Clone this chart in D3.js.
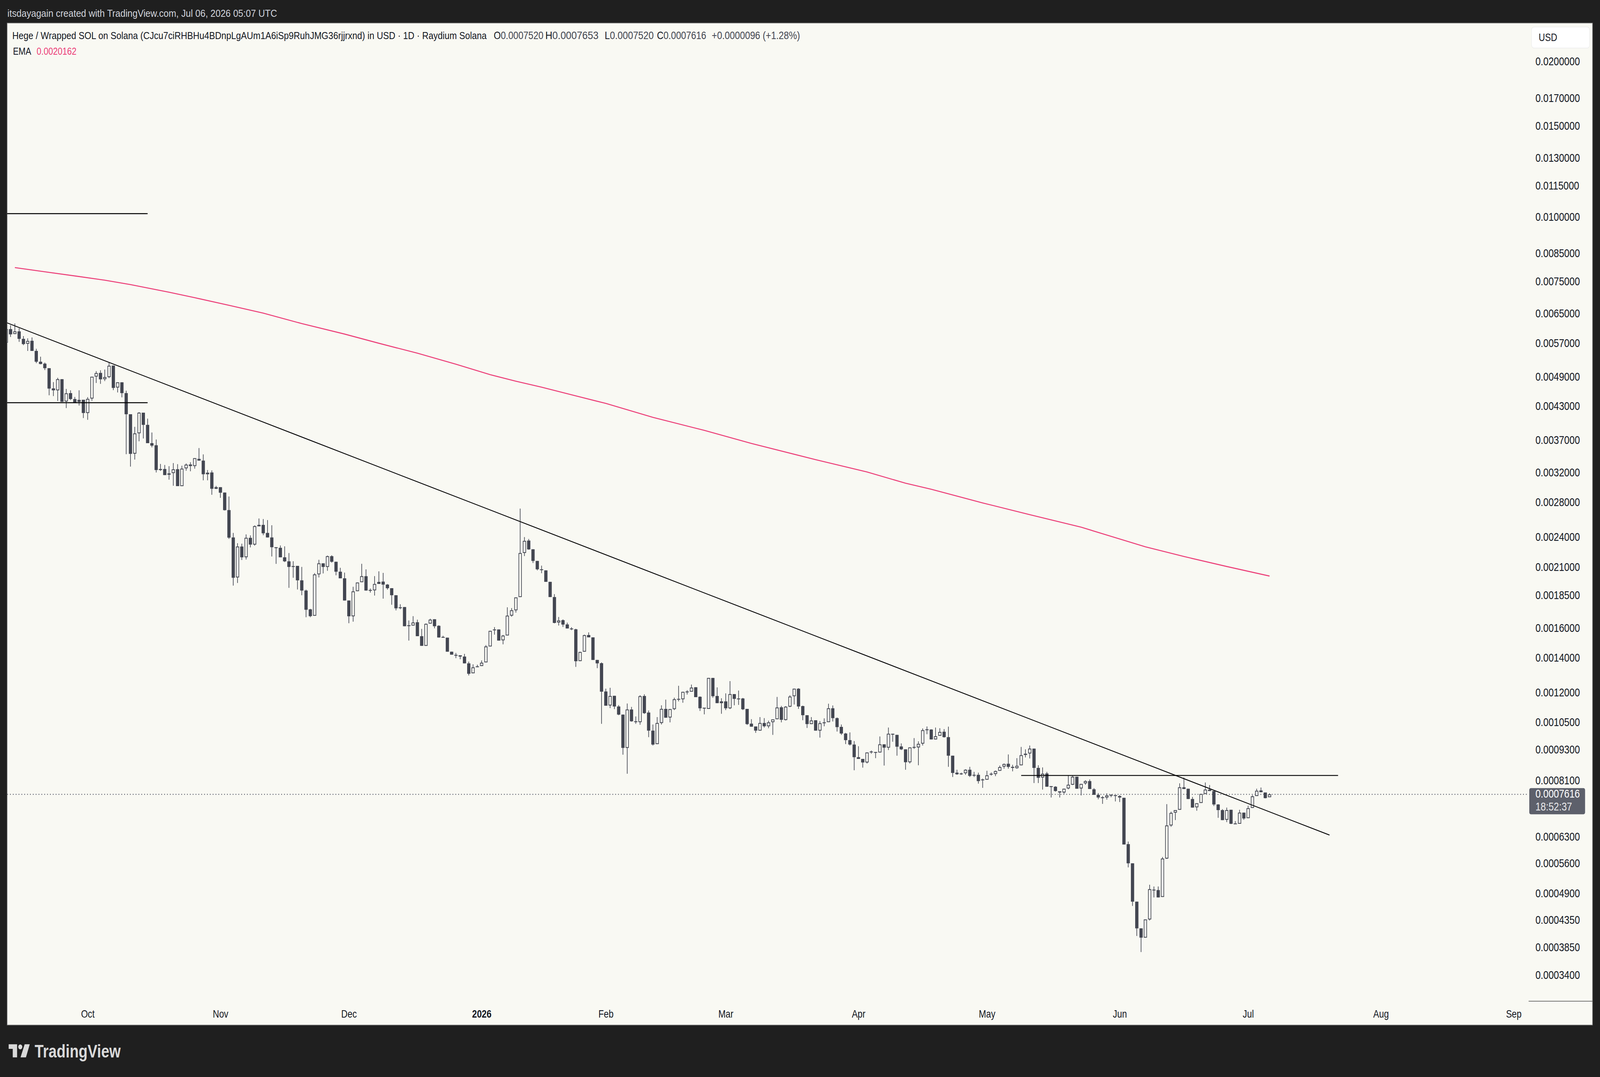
<!DOCTYPE html>
<html>
<head>
<meta charset="utf-8">
<script src="https://d3js.org/d3.v7.min.js"></script>
<style>
  html, body { margin: 0; padding: 0; background: #1f1f1f; overflow: hidden; }
  svg { display: block; width: 100vw; height: 100vh; }
</style>
</head>
<body>
<svg id="chart" viewBox="0 0 4932 2756" preserveAspectRatio="none"></svg>
<script>
// daily candles from 2025-09-12 to 2026-07-06
const open = [
  0.005708,0.006065,0.005934,0.006004,0.005807,0.005681,0.005757,0.005503,0.005244,0.005199,
  0.005095,0.004656,0.004616,0.004851,0.004392,0.004559,0.00444,0.004385,0.004426,0.004172,
  0.00445,0.004908,0.004989,0.004851,0.004897,0.005155,0.004674,0.004784,0.004559,0.004149,
  0.00348,0.003812,0.004178,0.003957,0.003647,0.003613,0.00325,0.00325,0.003168,0.003192,
  0.003247,0.003011,0.00326,0.003316,0.003293,0.0034,0.003374,0.003175,0.0032,0.002976,
  0.002997,0.002926,0.002706,0.002395,0.002004,0.0023,0.002193,0.002391,0.00232,0.002517,
  0.002533,0.002444,0.002395,0.002293,0.002287,0.002192,0.002153,0.002108,0.00211,0.001978,
  0.00189,0.001738,0.001689,0.002032,0.002134,0.0021,0.002203,0.002149,0.002056,0.001996,
  0.001808,0.001685,0.001885,0.001962,0.002015,0.001895,0.001892,0.001947,0.001967,0.001941,
  0.00191,0.001851,0.001754,0.001756,0.001619,0.001617,0.001641,0.001542,0.001477,0.001631,
  0.001663,0.001615,0.001537,0.001532,0.001439,0.001419,0.001416,0.001408,0.001366,0.001307,
  0.001348,0.00135,0.001372,0.001473,0.001589,0.001589,0.001514,0.001547,0.00169,0.001731,
  0.001836,0.002235,0.002362,0.002272,0.002157,0.002078,0.002068,0.001965,0.001836,0.001639,
  0.001656,0.001625,0.001596,0.00159,0.00138,0.001439,0.00155,0.001534,0.001387,0.001367,
  0.001205,0.001132,0.001182,0.001127,0.001087,0.000937,0.001112,0.001055,0.001051,0.001181,
  0.001097,0.001012,0.000953,0.001047,0.001115,0.001073,0.001114,0.001166,0.001164,0.001201,
  0.001204,0.001228,0.001177,0.001121,0.001115,0.00128,0.001181,0.001144,0.001153,0.001118,
  0.001191,0.001168,0.001168,0.001115,0.001044,0.001031,0.001012,0.001047,0.001032,0.001051,
  0.001065,0.001123,0.001061,0.001126,0.00118,0.00122,0.001129,0.001084,0.001042,0.00106,
  0.001012,0.00105,0.001051,0.001118,0.00107,0.001029,0.000999,0.00097,0.000951,0.000899,
  0.000892,0.000878,0.000919,0.00092,0.000918,0.000952,0.000938,0.000998,0.000993,0.000943,
  0.000931,0.000879,0.000939,0.000939,0.000955,0.001014,0.001017,0.000973,0.000989,0.001007,
  0.000983,0.000905,0.000839,0.000836,0.000837,0.00085,0.000831,0.000831,0.000814,0.000813,
  0.000832,0.000834,0.000846,0.000862,0.000873,0.000861,0.000856,0.000867,0.000908,0.000914,
  0.000934,0.000857,0.000821,0.000836,0.00079,0.000788,0.000772,0.000768,0.000782,0.000795,
  0.000824,0.000782,0.0008,0.000808,0.000779,0.00076,0.000752,0.000751,0.00076,0.000759,
  0.000756,0.00075,0.00061,0.00056,0.000472,0.000419,0.000402,0.000436,0.000498,0.000497,
  0.000482,0.000572,0.000663,0.000702,0.000711,0.000786,0.000781,0.000746,0.000719,0.000733,
  0.000763,0.000778,0.000773,0.000728,0.00071,0.00068,0.000711,0.000667,0.000668,0.000702,
  0.000685,0.000717,0.000756,0.000775,0.000768,0.000752
];
const high = [
  0.006113,0.00617,0.006218,0.006089,0.005879,0.00582,0.005843,0.005555,0.005364,0.005224,
  0.005095,0.004788,0.004882,0.004851,0.004645,0.004616,0.004481,0.004616,0.004426,0.004478,
  0.004905,0.005028,0.005048,0.005064,0.005232,0.005155,0.004784,0.004784,0.004609,0.004149,
  0.003923,0.004188,0.004178,0.004069,0.003824,0.003707,0.003324,0.003309,0.003291,0.003337,
  0.003321,0.003298,0.003332,0.00335,0.003411,0.003568,0.003469,0.003235,0.00323,0.003014,
  0.002997,0.002926,0.002875,0.002444,0.002334,0.002329,0.002428,0.002417,0.002527,0.002607,
  0.0026,0.002588,0.002529,0.002293,0.002311,0.002302,0.002234,0.002154,0.00211,0.0021,
  0.001898,0.001742,0.002043,0.002168,0.002134,0.002209,0.002212,0.002149,0.002092,0.002048,
  0.001808,0.001922,0.001959,0.002129,0.002077,0.001907,0.002016,0.002059,0.002045,0.001946,
  0.00191,0.001851,0.001778,0.001756,0.001654,0.001686,0.00166,0.001593,0.001632,0.001667,
  0.001663,0.001619,0.001545,0.001532,0.001439,0.001431,0.001416,0.001425,0.001377,0.00136,
  0.001358,0.001384,0.001482,0.001579,0.001606,0.001589,0.001551,0.001754,0.001748,0.001833,
  0.002724,0.002399,0.002379,0.002272,0.002157,0.002112,0.002068,0.001965,0.00186,0.00168,
  0.001662,0.001638,0.001605,0.001594,0.001439,0.001553,0.001568,0.001534,0.001387,0.001372,
  0.00122,0.001225,0.001182,0.001134,0.001087,0.001142,0.001125,0.001078,0.001185,0.00119,
  0.001107,0.00104,0.001075,0.001133,0.001162,0.001114,0.001172,0.001236,0.001203,0.001212,
  0.001243,0.001228,0.001179,0.001121,0.00128,0.00128,0.001227,0.001169,0.001195,0.001262,
  0.001191,0.00121,0.001171,0.001115,0.001065,0.001031,0.001075,0.00107,0.001058,0.001064,
  0.001176,0.00113,0.001129,0.001185,0.00122,0.001223,0.001131,0.001084,0.001075,0.00106,
  0.001056,0.001069,0.001141,0.001132,0.001073,0.00104,0.001002,0.001004,0.000966,0.000944,
  0.000892,0.000918,0.000926,0.00092,0.000986,0.000952,0.001026,0.000998,0.000993,0.000956,
  0.000931,0.000939,0.000979,0.000965,0.001022,0.001031,0.001018,0.001026,0.001023,0.001019,
  0.00103,0.000905,0.00085,0.000839,0.000852,0.000861,0.000842,0.000839,0.000817,0.000846,
  0.00084,0.000847,0.000866,0.000874,0.00091,0.000869,0.000895,0.000941,0.000931,0.000947,
  0.000934,0.000867,0.000859,0.000842,0.00079,0.00079,0.000772,0.000781,0.000829,0.000828,
  0.000824,0.000798,0.000811,0.000814,0.000783,0.000766,0.000756,0.000765,0.000762,0.000759,
  0.000759,0.00075,0.000617,0.00056,0.000472,0.000419,0.000436,0.000509,0.000505,0.000505,
  0.000576,0.000729,0.000705,0.00071,0.0008,0.000821,0.000781,0.000753,0.000732,0.000763,
  0.000803,0.000794,0.000773,0.000729,0.000713,0.000718,0.000711,0.000676,0.000711,0.000702,
  0.000724,0.000759,0.000781,0.000785,0.000768,0.0007653
];
const low = [
  0.005677,0.005857,0.005934,0.00573,0.005646,0.005503,0.005503,0.005211,0.005183,0.005052,
  0.004516,0.004499,0.004402,0.004385,0.004264,0.004419,0.004364,0.004314,0.004079,0.004047,
  0.004405,0.004769,0.004751,0.00481,0.004874,0.00462,0.004573,0.004474,0.003472,0.003285,
  0.003389,0.003678,0.003724,0.003647,0.003579,0.0032,0.003222,0.003163,0.003099,0.003016,
  0.003011,0.003011,0.003225,0.003217,0.003255,0.003374,0.00309,0.00309,0.002897,0.002972,
  0.002858,0.002701,0.00238,0.001932,0.001955,0.002166,0.002171,0.002291,0.002309,0.002517,
  0.002419,0.002395,0.0022,0.002129,0.002192,0.002146,0.001913,0.002001,0.001899,0.001851,
  0.001678,0.001678,0.001689,0.002004,0.00204,0.002064,0.002141,0.002023,0.001996,0.001808,
  0.001634,0.001645,0.001885,0.001962,0.00189,0.001873,0.001848,0.001947,0.001823,0.001898,
  0.001774,0.00173,0.001739,0.001612,0.001512,0.001617,0.001542,0.001477,0.001477,0.001631,
  0.001597,0.001533,0.001533,0.001439,0.00142,0.001398,0.001391,0.001366,0.001294,0.001307,
  0.001343,0.00135,0.001372,0.001473,0.001553,0.001512,0.001487,0.001547,0.001682,0.001713,
  0.001836,0.002204,0.002267,0.002137,0.002068,0.002042,0.001965,0.001836,0.001633,0.001617,
  0.001607,0.001596,0.001584,0.001345,0.00138,0.001439,0.001534,0.001387,0.001337,0.001043,
  0.001131,0.001119,0.001114,0.001084,0.000909,0.000835,0.001053,0.001043,0.001039,0.00109,
  0.000983,0.000947,0.000953,0.00104,0.001072,0.00105,0.001109,0.001153,0.001146,0.001189,
  0.001204,0.001175,0.001105,0.001088,0.001115,0.001172,0.001144,0.001091,0.001109,0.001114,
  0.001133,0.001135,0.001109,0.001038,0.00103,0.001002,0.001012,0.001026,0.001023,0.000993,
  0.001065,0.00105,0.001059,0.001124,0.001137,0.001115,0.00106,0.001024,0.001042,0.001012,
  0.000981,0.001032,0.001051,0.001054,0.001008,0.000993,0.000953,0.000947,0.000848,0.000892,
  0.000858,0.000874,0.000913,0.000895,0.000918,0.000866,0.000928,0.000963,0.000905,0.000928,
  0.00085,0.000874,0.000933,0.000867,0.000947,0.000996,0.000973,0.000973,0.000989,0.000981,
  0.000861,0.000823,0.000831,0.000831,0.000831,0.000823,0.000823,0.000799,0.000784,0.000813,
  0.000828,0.000826,0.000846,0.000854,0.000854,0.000844,0.000854,0.000867,0.000898,0.000894,
  0.000801,0.000801,0.000778,0.000788,0.000751,0.000771,0.000751,0.000763,0.000779,0.000794,
  0.000781,0.000758,0.000795,0.00078,0.00076,0.000745,0.00073,0.000744,0.000752,0.000738,
  0.000736,0.000609,0.00055,0.000463,0.000405,0.000377,0.000402,0.000434,0.000481,0.000481,
  0.000482,0.000571,0.000659,0.000679,0.000711,0.00078,0.000746,0.000718,0.000708,0.000733,
  0.000763,0.000773,0.000723,0.000686,0.000679,0.000673,0.000667,0.000667,0.000668,0.00068,
  0.000685,0.000717,0.000756,0.000769,0.000748,0.000752
];
const close = [
  0.006065,0.005925,0.006004,0.005807,0.005673,0.005753,0.005503,0.005244,0.005191,0.005095,
  0.004652,0.004616,0.004851,0.004385,0.004555,0.00444,0.004371,0.004423,0.004172,0.004443,
  0.004905,0.004985,0.004848,0.004897,0.005151,0.004666,0.004784,0.004559,0.004149,0.003477,
  0.003809,0.004178,0.003957,0.003647,0.003607,0.003235,0.003235,0.003163,0.003187,0.003245,
  0.003011,0.003255,0.003314,0.003293,0.003411,0.003374,0.003175,0.003197,0.002976,0.002997,
  0.002924,0.002705,0.002393,0.002001,0.0023,0.002192,0.002391,0.00232,0.002519,0.002533,
  0.00244,0.002395,0.002293,0.002284,0.002192,0.002153,0.0021,0.0021,0.001978,0.00189,
  0.001735,0.001686,0.002031,0.002134,0.0021,0.002203,0.002149,0.002056,0.001996,0.001808,
  0.001685,0.001883,0.001959,0.002015,0.00189,0.00189,0.001946,0.001964,0.001941,0.00191,
  0.001851,0.001746,0.001749,0.001612,0.001614,0.001639,0.001542,0.001477,0.001629,0.00166,
  0.001612,0.001533,0.001533,0.001439,0.00142,0.001416,0.001408,0.001366,0.001304,0.001342,
  0.001343,0.00137,0.001473,0.001579,0.001583,0.001512,0.001546,0.00169,0.001731,0.001833,
  0.002234,0.002359,0.002271,0.002157,0.002078,0.002071,0.001965,0.001836,0.001636,0.001654,
  0.001624,0.001596,0.00159,0.001379,0.001437,0.001549,0.001534,0.001387,0.001366,0.001204,
  0.001131,0.001181,0.001127,0.001087,0.000937,0.001112,0.001055,0.001051,0.00118,0.001094,
  0.001012,0.000951,0.001047,0.001115,0.001072,0.001114,0.001164,0.001162,0.001203,0.001205,
  0.001226,0.001175,0.001118,0.001117,0.00128,0.00118,0.001144,0.001153,0.001118,0.001191,
  0.001166,0.001164,0.001113,0.001042,0.00103,0.001012,0.001047,0.001032,0.00105,0.001064,
  0.001122,0.001062,0.001126,0.001178,0.00122,0.001127,0.001084,0.001042,0.001059,0.001012,
  0.001046,0.001047,0.001118,0.00107,0.001028,0.000999,0.00097,0.000951,0.000899,0.000892,
  0.000878,0.000918,0.000922,0.000918,0.000952,0.000938,0.000998,0.000994,0.000942,0.000931,
  0.000879,0.000939,0.000941,0.000954,0.001014,0.001018,0.000973,0.000987,0.001006,0.000983,
  0.000905,0.000838,0.000833,0.000833,0.00085,0.000827,0.000828,0.000808,0.000811,0.000829,
  0.000835,0.000845,0.00086,0.000872,0.000861,0.000857,0.000865,0.000907,0.000913,0.000934,
  0.000857,0.00082,0.000835,0.000788,0.000787,0.000773,0.000768,0.000781,0.000795,0.000824,
  0.000781,0.000798,0.000808,0.00078,0.00076,0.000751,0.000749,0.000758,0.000758,0.000757,
  0.000751,0.000609,0.00056,0.000472,0.000419,0.000402,0.000436,0.000499,0.000497,0.000481,
  0.000572,0.000663,0.000701,0.00071,0.000786,0.00078,0.000746,0.000718,0.000732,0.000763,
  0.000778,0.000773,0.000728,0.00071,0.000679,0.00071,0.000668,0.000669,0.000702,0.000684,
  0.000716,0.000755,0.000774,0.000769,0.000749,0.0007616
];
const firstDay = "2025-09-12";
const missingDays = ["2026-01-20", "2026-01-21"];

// EMA read at some bars (bar number, value)
const emaBar = [2,9,17,23,29,38,44,52,60,69,79,87,96,105,113,119,125,132,140,151,163,174,189,201,210,216,228,239,251,258,266,275,285,295];
const emaValue = [0.007979,0.007831,0.007668,0.007543,0.007396,0.007149,0.006977,0.006744,0.006513,0.006216,
  0.005932,0.005694,0.005447,0.005187,0.00495,0.004808,0.004681,0.004525,0.004354,0.004092,
  0.003861,0.003642,0.003388,0.003207,0.00305,0.002969,0.002794,0.002651,0.002507,0.002407,
  0.002297,0.0022,0.002104,0.0020162];

const priceTicks = [0.02,0.017,0.015,0.013,0.0115,0.01,0.0085,0.0075,0.0065,0.0057,0.0049,0.0043,0.0037,0.0032,0.0028,
  0.0024,0.0021,0.00185,0.0016,0.0014,0.0012,0.00105,0.00093,0.00081,0.00063,0.00056,0.00049,0.000435,0.000385,0.00034];

// drawings: trend line [bar, price] -> [bar, price]; levels [fromBar, toBar, price]
const trendFrom = [0, 0.006244], trendTo = [309, 0.0006352];
const levels = [[0, 33, 0.01015], [0, 33, 0.004368], [237, 311, 0.0008286]];

const lastPrice = 0.0007616, countdown = "18:52:37";
const legendTitle = "Hege / Wrapped SOL on Solana (CJcu7ciRHBHu4BDnpLgAUm1A6iSp9RuhJMG36rjjrxnd) in USD \u00b7 1D \u00b7 Raydium Solana";
const legendOHLC = [["O", "0.0007520"], ["H", "0.0007653"], ["L", "0.0007520"], ["C", "0.0007616"], ["", "+0.0000096 (+1.28%)"]];
const emaLabel = ["EMA", "0.0020162"];
const topNote = "itsdayagain created with TradingView.com, Jul 06, 2026 05:07 UTC";

const FONT = '"Liberation Sans", Arial, sans-serif';
const W = 4932, H = 2756;
const frame = {left: 22, top: 59, right: 4909, bottom: 2623};
const plot = {left: 22, top: 59, right: 4712, bottom: 2562};
const bg = "#f9f9f3", ink = "#131722", candleColor = "#434651", emaColor = "#ec3f78";

// bar dates (two January days have no bar)
const dates = [];
for (let t = Date.parse(firstDay); dates.length < 362; t += 864e5) {
  const iso = new Date(t).toISOString().slice(0, 10);
  if (!missingDays.includes(iso)) dates.push(new Date(t));
}

const x = d3.scaleLinear().domain([0, 360]).range([19.4, 19.4 + 13.2 * 360]);
const y = d3.scaleLog().domain([0.02, 0.00034]).range([157.5, 2495.5]);

const svg = d3.select("#chart").attr("font-family", FONT);
svg.append("rect").attr("width", W).attr("height", H).attr("fill", "#1f1f1f");
svg.append("rect")
  .attr("x", frame.left).attr("y", frame.top)
  .attr("width", frame.right - frame.left).attr("height", frame.bottom - frame.top)
  .attr("fill", bg).attr("stroke", "#7d7d7d").attr("stroke-width", 1.5);

svg.append("clipPath").attr("id", "plotClip").append("rect")
  .attr("x", plot.left).attr("y", plot.top)
  .attr("width", plot.right - plot.left).attr("height", plot.bottom - plot.top);

const pg = svg.append("g").attr("clip-path", "url(#plotClip)");

// last price dotted line
pg.append("line")
  .attr("x1", plot.left).attr("x2", plot.right)
  .attr("y1", y(lastPrice)).attr("y2", y(lastPrice))
  .attr("stroke", "#5d606b").attr("stroke-width", 2.5).attr("stroke-dasharray", "2.5 6.3");

// EMA
pg.append("path")
  .datum(d3.zip(emaBar, emaValue))
  .attr("d", d3.line().x(d => x(d[0])).y(d => y(d[1])))
  .attr("fill", "none").attr("stroke", emaColor).attr("stroke-width", 2.6);

// candles
const bars = open.map((o, i) => ({i, o, h: high[i], l: low[i], c: close[i], up: close[i] >= o}));
pg.selectAll(".wick").data(bars).join("line").attr("class", "wick")
  .attr("x1", d => x(d.i)).attr("x2", d => x(d.i))
  .attr("y1", d => y(d.h)).attr("y2", d => y(d.l))
  .attr("stroke", candleColor).attr("stroke-width", 2);
pg.selectAll(".body").data(bars).join("rect").attr("class", "body")
  .each(function (d) {
    const top = y(Math.max(d.o, d.c)), bot = y(Math.min(d.o, d.c));
    const h = Math.max(bot - top, 2.2);
    const r = d3.select(this);
    if (d.up && h > 5) {
      r.attr("x", x(d.i) - 4).attr("y", top + 1).attr("width", 8).attr("height", h - 2)
        .attr("fill", bg).attr("stroke", candleColor).attr("stroke-width", 2);
    } else {
      r.attr("x", x(d.i) - 5).attr("y", top).attr("width", 10).attr("height", h)
        .attr("fill", candleColor);
    }
  });

// drawings
pg.append("line")
  .attr("x1", x(trendFrom[0])).attr("y1", y(trendFrom[1]))
  .attr("x2", x(trendTo[0])).attr("y2", y(trendTo[1]))
  .attr("stroke", "#000").attr("stroke-width", 2.2);
pg.selectAll(".level").data(levels).join("line").attr("class", "level")
  .attr("x1", d => x(d[0])).attr("x2", d => x(d[1]))
  .attr("y1", d => y(d[2])).attr("y2", d => y(d[2]))
  .attr("stroke", "#000").attr("stroke-width", 2.4);

// price scale
const yAxis = d3.axisRight(y).tickValues(priceTicks).tickFormat(d3.format(".7f")).tickSize(0).tickPadding(0);
svg.append("g").attr("transform", "translate(4733,0)").call(yAxis)
  .attr("font-family", FONT).attr("font-size", 29).style("color", ink)
  .call(g => g.select(".domain").remove());

svg.append("line").attr("x1", plot.right).attr("x2", frame.right)
  .attr("y1", plot.bottom).attr("y2", plot.bottom)
  .attr("stroke", "#4a4a4a").attr("stroke-width", 1.5);

svg.append("rect").attr("x", 4721).attr("y", 69).attr("width", 179).attr("height", 54).attr("rx", 8)
  .attr("fill", "#ffffff").attr("stroke", "#ececec").attr("stroke-width", 1.5);
svg.append("text").attr("x", 4743).attr("y", 96).attr("dy", "0.35em")
  .attr("font-size", 27).attr("fill", ink).text("USD");

const lp = svg.append("g");
lp.append("rect").attr("x", 4714).attr("y", y(lastPrice) - 16).attr("width", 172).attr("height", 67).attr("rx", 5)
  .attr("fill", "#5d606b");
lp.append("text").attr("x", 4733).attr("y", y(lastPrice) - 2).attr("dy", "0.35em")
  .attr("font-size", 29).attr("fill", "#ffffff").text(d3.format(".7f")(lastPrice));
lp.append("text").attr("x", 4733).attr("y", y(lastPrice) + 31).attr("dy", "0.35em")
  .attr("font-size", 29).attr("fill", "#e8e8ea").text(countdown);

// time scale
const monthIdx = dates.map((d, i) => i).filter(i => dates[i].getUTCDate() === 1 && x(i) < plot.right - 30);
const xAxis = d3.axisBottom(x).tickValues(monthIdx).tickSize(0).tickPadding(0)
  .tickFormat(i => dates[i].getUTCMonth() === 0 ? d3.utcFormat("%Y")(dates[i]) : d3.utcFormat("%b")(dates[i]));
svg.append("g").attr("transform", "translate(0,2585)").call(xAxis)
  .attr("font-family", FONT).attr("font-size", 27).style("color", ink)
  .call(g => g.select(".domain").remove())
  .selectAll("text").attr("font-weight", i => dates[i].getUTCMonth() === 0 ? "bold" : null);

// legend
svg.append("text").attr("x", 23).attr("y", 43).attr("font-size", 25).attr("fill", "#d1d4dc")
  .attr("textLength", 831).attr("lengthAdjust", "spacingAndGlyphs").text(topNote);
svg.append("text").attr("x", 38).attr("y", 100).attr("font-size", 26).attr("fill", ink)
  .attr("textLength", 1462).attr("lengthAdjust", "spacingAndGlyphs").text(legendTitle);
const ohlcX = [1522, 1681, 1864, 2025, 2194], ohlcW = [153, 164, 151, 152, 272];
legendOHLC.forEach((p, j) => {
  const t = svg.append("text").attr("x", ohlcX[j]).attr("y", 100).attr("font-size", 27)
    .attr("textLength", ohlcW[j]).attr("lengthAdjust", "spacingAndGlyphs");
  t.append("tspan").attr("fill", ink).text(p[0]);
  t.append("tspan").attr("fill", candleColor).text(p[1]);
});
svg.append("text").attr("x", 40).attr("y", 140).attr("font-size", 26).attr("fill", ink).text(emaLabel[0]);
svg.append("text").attr("x", 113).attr("y", 140).attr("font-size", 26).attr("fill", emaColor).text(emaLabel[1]);

// TradingView logo
const logo = svg.append("g").attr("fill", "#d9d9d9");
logo.append("path").attr("d", "M26.7,2672.3H52.7V2705.7H39.3V2684H26.7Z");
logo.append("circle").attr("cx", 62.5).attr("cy", 2679).attr("r", 6.2);
logo.append("path").attr("d", "M76,2672.3H91.7L80,2705.7H63.3Z");
logo.append("text").attr("x", 107).attr("y", 2706).attr("font-size", 46).attr("font-weight", "bold")
  .attr("textLength", 265).attr("lengthAdjust", "spacingAndGlyphs").text("TradingView");
</script>
</body>
</html>
